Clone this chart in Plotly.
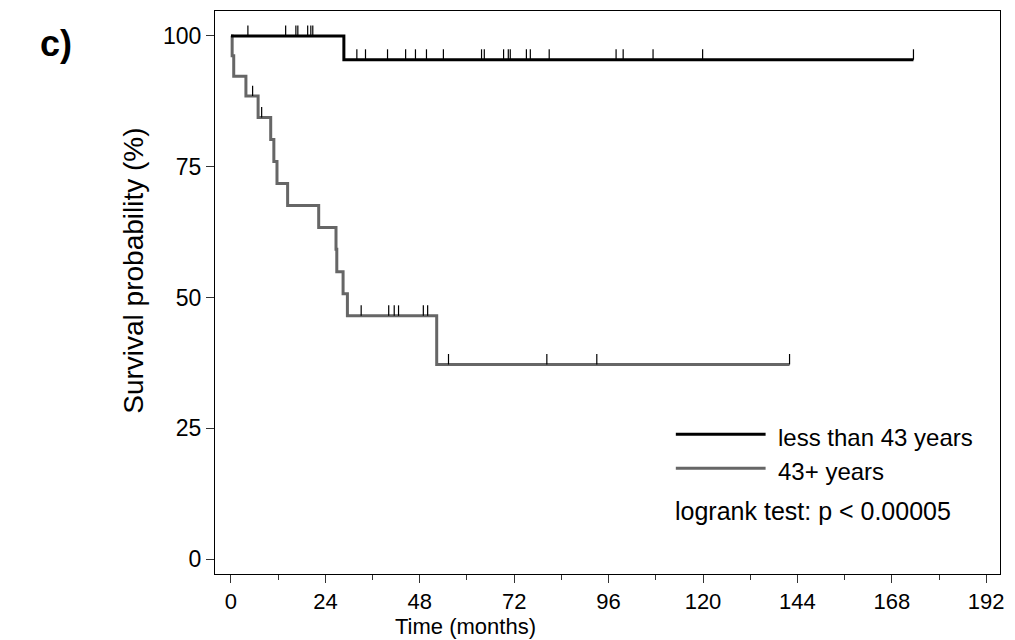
import numpy as np
import plotly.graph_objects as go

# ---- data ----
young_time = [0, 28.7, 173.5]
young_surv = [100, 95.45, 95.45]
young_censor_time = [4.3, 13.9, 16.5, 17.0, 19.5, 20.3, 20.8,
                     32.0, 34.2, 39.8, 44.4, 46.9, 49.7, 54.0, 63.7, 64.4,
                     69.3, 70.5, 71.0, 75.1, 76.1, 80.9, 97.9, 99.7, 107.3,
                     119.9, 173.5]

old_time = [0, 0.3, 0.7, 3.8, 6.9, 10.1, 10.9, 11.7, 14.4, 22.3, 26.7, 26.9,
            28.5, 29.6, 52.3, 142.0]
old_surv = [100, 96.2, 92.3, 88.5, 84.4, 80.2, 76.0, 71.8, 67.6, 63.4, 59.2,
            54.9, 50.7, 46.5, 37.2, 37.2]
old_censor_time = [5.5, 7.8, 33.1, 40.1, 41.5, 42.6, 48.9, 50.0, 55.3, 80.3,
                   93.0, 142.0]

legend_labels = ["less than 43 years", "43+ years"]
test_text = "logrank test: p < 0.00005"
x_ticks = [0, 24, 48, 72, 96, 120, 144, 168, 192]
y_ticks = [0, 25, 50, 75, 100]

FONT = "Liberation Sans, Arial, sans-serif"
BLACK = "#000000"
GRAY = "#666666"
MARK_H = 2.0  # height of censor ticks in survival units
TXT = 23


def step_value(times, surv, t):
    idx = np.searchsorted(np.asarray(times), t, side="right") - 1
    return np.asarray(surv)[idx]


def censor_segments(times, surv, ctimes):
    xs, ys = [], []
    for t in ctimes:
        s = float(step_value(times, surv, t))
        xs += [t, t, None]
        ys += [s, s + MARK_H, None]
    return xs, ys


fig = go.Figure()

fig.add_trace(go.Scatter(x=old_time, y=old_surv, mode="lines",
                         line=dict(color=GRAY, width=3, shape="hv"),
                         showlegend=False, hoverinfo="skip"))
fig.add_trace(go.Scatter(x=young_time, y=young_surv, mode="lines",
                         line=dict(color=BLACK, width=3, shape="hv"),
                         showlegend=False, hoverinfo="skip"))

for times, surv, ct in [(young_time, young_surv, young_censor_time),
                        (old_time, old_surv, old_censor_time)]:
    xs, ys = censor_segments(times, surv, ct)
    fig.add_trace(go.Scatter(x=xs, y=ys, mode="lines",
                             line=dict(color=BLACK, width=1.2),
                             showlegend=False, hoverinfo="skip"))

# manual legend (in paper coords)
L, T, W, H = 215, 10, 787, 564


def px(x):
    return (x - L) / W


def py(y):
    return (T + H - y) / H


fig.add_shape(type="line", xref="paper", yref="paper",
              x0=px(677), x1=px(767), y0=py(434), y1=py(434),
              line=dict(color=BLACK, width=3))
fig.add_shape(type="line", xref="paper", yref="paper",
              x0=px(677), x1=px(767), y0=py(468), y1=py(468),
              line=dict(color=GRAY, width=3))
fig.add_annotation(xref="paper", yref="paper", x=px(777), y=py(437),
                   text=legend_labels[0], showarrow=False, xanchor="left",
                   yanchor="middle", font=dict(family=FONT, size=24, color=BLACK))
fig.add_annotation(xref="paper", yref="paper", x=px(777), y=py(471),
                   text=legend_labels[1], showarrow=False, xanchor="left",
                   yanchor="middle", font=dict(family=FONT, size=24, color=BLACK))
fig.add_annotation(xref="paper", yref="paper", x=px(674), y=py(511),
                   text=test_text, showarrow=False, xanchor="left",
                   yanchor="middle", font=dict(family=FONT, size=25, color=BLACK))

# axis titles
fig.add_annotation(xref="paper", yref="paper", x=px(466), y=py(640),
                   text="Time (months)", showarrow=False, xanchor="center",
                   yanchor="bottom", borderpad=0,
                   font=dict(family=FONT, size=22, color=BLACK))
fig.add_annotation(xref="paper", yref="paper", x=px(133), y=py(270),
                   text="Survival probability (%)", showarrow=False,
                   textangle=-90, xanchor="center", yanchor="middle",
                   font=dict(family=FONT, size=28, color=BLACK))
fig.add_annotation(xref="paper", yref="paper", x=px(56), y=py(43),
                   text="<b>c)</b>", showarrow=False, xanchor="center",
                   yanchor="middle", font=dict(family=FONT, size=36, color=BLACK))

fig.update_xaxes(range=[-4.06, 195.5], tickmode="array", tickvals=x_ticks,
                 ticktext=[str(v) for v in x_ticks],
                 ticks="outside", ticklen=8, tickwidth=1, tickcolor="#333333",
                 minor=dict(ticks="outside", ticklen=5, dtick=12, tick0=0,
                            tickcolor="#333333", tickwidth=1, showgrid=False),
                 showline=True, linecolor=BLACK, linewidth=1, mirror=True,
                 showgrid=False, zeroline=False,
                 tickfont=dict(family=FONT, size=22, color=BLACK))
fig.update_yaxes(range=[-2.86, 104.77], tickmode="array", tickvals=y_ticks,
                 ticktext=[str(v) for v in y_ticks],
                 ticks="outside", ticklen=8, tickwidth=1, tickcolor="#333333",
                 showline=True, linecolor=BLACK, linewidth=1, mirror=True,
                 showgrid=False, zeroline=False,
                 tickfont=dict(family=FONT, size=TXT, color=BLACK))

fig.update_layout(width=1015, height=640, autosize=False,
                  margin=dict(l=L, r=1015 - L - W, t=T, b=640 - T - H),
                  plot_bgcolor="white", paper_bgcolor="white",
                  showlegend=False)

fig.write_html("out.html", config={"displayModeBar": False},
               post_script="document.body.style.margin='0';"
                           "document.body.style.overflow='hidden';")
